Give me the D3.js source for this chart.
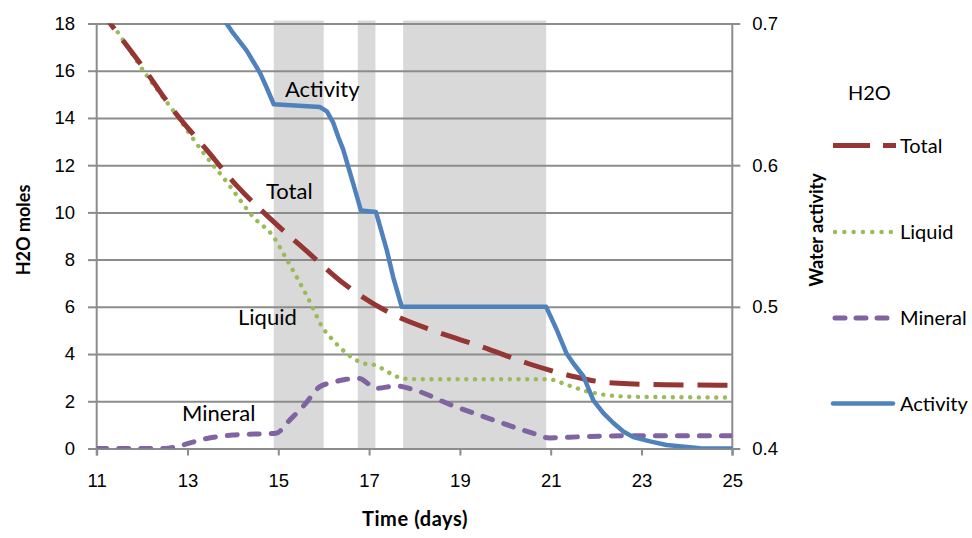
<!DOCTYPE html>
<html>
<head>
<meta charset="utf-8">
<script src="https://cdn.jsdelivr.net/npm/d3@7"></script>
<style>
  body { margin: 0; background: #fff; }
  svg { display: block; font-family: Lato, "Open Sans", sans-serif; }
</style>
</head>
<body>
<svg id="chart" width="972" height="538"></svg>
<script>
// H2O balance over time: moles of water (left axis) and water activity (right axis)

const totalMoles = [
  [11.0, 18.8], [11.3, 18.0], [12.0, 16.2], [12.7, 14.3], [13.4, 12.7], [14.1, 11.1],
  [14.9, 9.6], [15.6, 8.4], [16.5, 6.9], [17.4, 5.8], [18.4, 5.0], [19.5, 4.3],
  [20.5, 3.6], [21.5, 3.05], [22.0, 2.85], [22.5, 2.76], [23.5, 2.7], [25.0, 2.68]
];

const liquidMoles = [
  [11.0, 18.8], [11.4, 17.8], [12.1, 15.8], [12.7, 14.27], [13.3, 12.65], [13.9, 11.2],
  [14.45, 9.8], [14.9, 8.95], [15.1, 8.3], [15.35, 7.45], [15.55, 6.75], [15.75, 6.0],
  [15.95, 5.2], [16.2, 4.6], [16.55, 3.96], [16.85, 3.62], [17.15, 3.52], [17.45, 3.2],
  [17.75, 2.96], [18.2, 2.93], [20.95, 2.93], [21.35, 2.7], [21.8, 2.42], [22.1, 2.3],
  [22.8, 2.19], [25.0, 2.16]
];

const mineralMoles = [
  [11.0, 0], [12.5, 0], [12.9, 0.15], [13.3, 0.37], [14.0, 0.57], [14.95, 0.65],
  [15.25, 1.2], [15.6, 1.9], [15.9, 2.6], [16.2, 2.8], [16.5, 2.93], [16.78, 2.97],
  [17.15, 2.55], [17.6, 2.65], [18.0, 2.48], [18.8, 1.85], [19.75, 1.2], [20.6, 0.65],
  [20.97, 0.45], [21.7, 0.5], [22.8, 0.54], [25.0, 0.54]
];

const waterActivity = [
  [13.6, 0.722], [13.86, 0.7], [14.01, 0.693], [14.3, 0.681], [14.45, 0.673], [14.6, 0.665],
  [14.74, 0.655], [14.9, 0.643], [15.92, 0.641], [16.07, 0.638], [16.21, 0.63], [16.32, 0.62],
  [16.43, 0.611], [16.54, 0.599], [16.65, 0.587], [16.74, 0.577], [16.82, 0.568], [17.15, 0.567],
  [17.39, 0.54], [17.53, 0.521], [17.72, 0.5], [20.9, 0.5], [21.13, 0.484], [21.35, 0.467],
  [21.5, 0.46], [21.72, 0.451], [21.94, 0.434], [22.16, 0.425], [22.38, 0.418], [22.6, 0.412],
  [22.82, 0.408], [23.19, 0.405], [23.55, 0.4025], [24.29, 0.4002], [25.0, 0.4]
];

// Periods highlighted in grey (start day, end day)
const shadedPeriods = [[14.9, 16.0], [16.75, 17.14], [17.75, 20.9]];

const dayTicks = [11, 13, 15, 17, 19, 21, 23, 25];
const molesTicks = [0, 2, 4, 6, 8, 10, 12, 14, 16, 18];
const activityTicks = [0.4, 0.5, 0.6, 0.7];

const seriesNames = ["Total", "Liquid", "Mineral", "Activity"];

const svg = d3.select("#chart");
const plot = { left: 96.7, right: 732.3, top: 23.5, bottom: 448.5 };

const x = d3.scaleLinear().domain([11, 25]).range([plot.left, plot.right]);
const y = d3.scaleLinear().domain([0, 18]).range([plot.bottom, plot.top]);
const yAct = d3.scaleLinear().domain([0.4, 0.7]).range([plot.bottom, plot.top]);

const gridColor = "#8c8c8c";
const colors = { Total: "#963634", Liquid: "#9bbb59", Mineral: "#8064a2", Activity: "#4f81bd" };

svg.append("defs").append("clipPath").attr("id", "plotClip")
  .append("rect")
  .attr("x", plot.left).attr("y", plot.top)
  .attr("width", plot.right - plot.left).attr("height", plot.bottom - plot.top);

// Shaded periods
svg.append("g").selectAll("rect").data(shadedPeriods).join("rect")
  .attr("x", d => x(d[0]))
  .attr("width", d => x(d[1]) - x(d[0]))
  .attr("y", plot.top - 3)
  .attr("height", plot.bottom - plot.top + 3)
  .attr("fill", "#d9d9d9");

// Left axis with gridlines
const leftAxis = svg.append("g")
  .attr("transform", `translate(${plot.left},0)`)
  .call(d3.axisLeft(y).tickValues(molesTicks).tickSize(8.7).tickPadding(13));
leftAxis.select(".domain").remove();
leftAxis.selectAll(".tick line").clone()
  .attr("x1", 0).attr("x2", plot.right - plot.left);
leftAxis.selectAll(".tick line").attr("stroke", gridColor).attr("stroke-width", 2);
leftAxis.selectAll(".tick text").attr("font-size", 18.5).attr("fill", "#000");

// Right axis
const rightAxis = svg.append("g")
  .attr("transform", `translate(${plot.right},0)`)
  .call(d3.axisRight(yAct).tickValues(activityTicks).tickSize(8).tickPadding(12)
    .tickFormat(d3.format(".1f")));
rightAxis.select(".domain").remove();
rightAxis.selectAll(".tick line").attr("stroke", gridColor).attr("stroke-width", 2);
rightAxis.selectAll(".tick text").attr("font-size", 18.5).attr("fill", "#000");

// Bottom axis
const bottomAxis = svg.append("g")
  .attr("transform", `translate(0,${plot.bottom})`)
  .call(d3.axisBottom(x).tickValues(dayTicks).tickSize(7).tickPadding(18));
bottomAxis.select(".domain").remove();
bottomAxis.selectAll(".tick line").attr("stroke", gridColor).attr("stroke-width", 2);
bottomAxis.selectAll(".tick text").attr("font-size", 18.5).attr("fill", "#000");

// Frame lines of the plot area
svg.append("line").attr("x1", plot.left).attr("x2", plot.left)
  .attr("y1", plot.top).attr("y2", plot.bottom + 7)
  .attr("stroke", gridColor).attr("stroke-width", 2);
svg.append("line").attr("x1", plot.right).attr("x2", plot.right)
  .attr("y1", plot.top).attr("y2", plot.bottom + 7)
  .attr("stroke", gridColor).attr("stroke-width", 2);

// Series
const lineMoles = d3.line().x(d => x(d[0])).y(d => y(d[1])).curve(d3.curveMonotoneX);
const lineAct = d3.line().x(d => x(d[0])).y(d => yAct(d[1])).curve(d3.curveLinear);

const lines = svg.append("g").attr("clip-path", "url(#plotClip)");

lines.append("path").datum(mineralMoles)
  .attr("d", lineMoles).attr("fill", "none")
  .attr("stroke", colors.Mineral).attr("stroke-width", 5)
  .attr("stroke-dasharray", "10,12").attr("stroke-linecap", "round");

lines.append("path").datum(liquidMoles)
  .attr("d", lineMoles).attr("fill", "none")
  .attr("stroke", colors.Liquid).attr("stroke-width", 4.4)
  .attr("stroke-dasharray", "0.1,8.6").attr("stroke-linecap", "round");

lines.append("path").datum(totalMoles)
  .attr("d", lineMoles).attr("fill", "none")
  .attr("stroke", colors.Total).attr("stroke-width", 5)
  .attr("stroke-dasharray", "30,14").attr("stroke-linecap", "butt");

lines.append("path").datum(waterActivity)
  .attr("d", lineAct).attr("fill", "none")
  .attr("stroke", colors.Activity).attr("stroke-width", 4.5)
  .attr("stroke-linejoin", "round");

// In-plot series labels
const inLabels = [
  { text: "Activity", x: 285, y: 97 },
  { text: "Total", x: 266, y: 199 },
  { text: "Liquid", x: 238, y: 325 },
  { text: "Mineral", x: 182, y: 421 }
];
svg.append("g").selectAll("text").data(inLabels).join("text")
  .attr("x", d => d.x).attr("y", d => d.y)
  .attr("font-size", 22).attr("fill", "#000")
  .text(d => d.text);

// Axis titles
svg.append("text")
  .attr("transform", "translate(30,230) rotate(-90)")
  .attr("text-anchor", "middle").attr("font-size", 18).attr("font-weight", "bold")
  .text("H2O moles");
svg.append("text")
  .attr("transform", "translate(823,230) rotate(-90)")
  .attr("text-anchor", "middle").attr("font-size", 18).attr("font-weight", "bold")
  .text("Water activity");
svg.append("text")
  .attr("x", 415).attr("y", 526)
  .attr("text-anchor", "middle").attr("font-size", 20).attr("font-weight", "bold")
  .attr("letter-spacing", 0.6)
  .text("Time (days)");

// Legend
const legend = svg.append("g");
legend.append("text").attr("x", 848).attr("y", 100).attr("font-size", 20).text("H2O");

const legendY = { Total: 145.5, Liquid: 232, Mineral: 318, Activity: 403.5 };
const legendStyle = {
  Total: { w: 5, dash: "37,13", cap: "butt", len: 63 },
  Liquid: { w: 4.4, dash: "0.1,9.2", cap: "round", len: 57 },
  Mineral: { w: 5, dash: "10,11", cap: "round", len: 57 },
  Activity: { w: 4.5, dash: null, cap: "round", len: 60 }
};
seriesNames.forEach(name => {
  const s = legendStyle[name];
  const x0 = name === "Activity" || name === "Total" ? 833 : 835;
  legend.append("line")
    .attr("x1", x0).attr("x2", x0 + s.len)
    .attr("y1", legendY[name]).attr("y2", legendY[name])
    .attr("stroke", colors[name]).attr("stroke-width", s.w)
    .attr("stroke-linecap", s.cap)
    .attr("stroke-dasharray", s.dash);
  legend.append("text")
    .attr("x", 900).attr("y", legendY[name] + 7)
    .attr("font-size", 20).text(name);
});
</script>
</body>
</html>
